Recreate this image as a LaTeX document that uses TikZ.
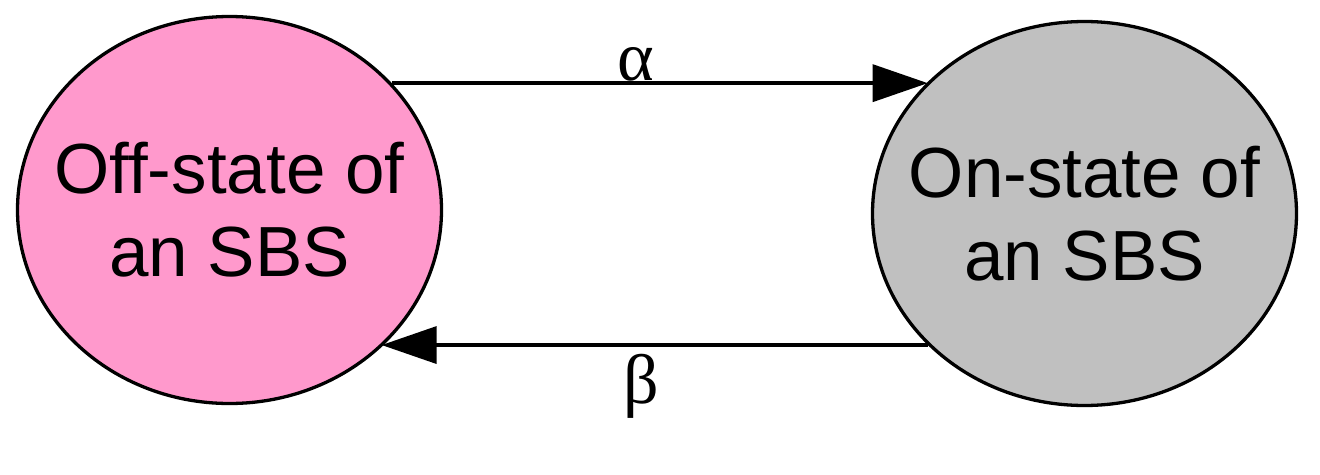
\documentclass[tikz,border=0pt]{standalone}
\usepackage{fontspec}
\setmainfont{Liberation Sans}
\newfontfamily\greekfont{Liberation Serif}
\usetikzlibrary{shapes.geometric,arrows.meta}
\definecolor{offpink}{RGB}{255,153,204}
\definecolor{ongray}{RGB}{192,192,192}
\tikzset{
  statebox/.style={ellipse, draw=black, line width=3.3pt, inner sep=0pt},
  statetext/.style={align=center, inner sep=0pt, font=\fontsize{71}{83}\selectfont},
  trans/.style={line width=3.5pt, -{Triangle[length=55pt,width=37pt]}},
  greeklabel/.style={font=\greekfont\fontsize{70}{76}\selectfont, inner sep=0pt}
}
\begin{document}
\begin{tikzpicture}[x=1pt,y=-1pt]
\useasboundingbox (0,0) rectangle (1320,474);
\node[statebox, fill=offpink, minimum width=424pt, minimum height=387pt] (off) at (229.5,210) {};
\node[statebox, fill=ongray, minimum width=424pt, minimum height=384pt] (on) at (1084.5,213.5) {};
\node[statetext] (offtext) at (off.center) {Off-state of\\an SBS};
\node[statetext] (ontext) at (on.center) {On-state of\\an SBS};
\draw[trans] (off.38) -- (off.38 -| on.140);
\draw[trans] (on.-140) -- (on.-140 -| off.-42);
\node[greeklabel, anchor=base] (alpha) at (636,80) {α};
\node[greeklabel] (beta) at (641,386) {β};
\end{tikzpicture}
\end{document}
